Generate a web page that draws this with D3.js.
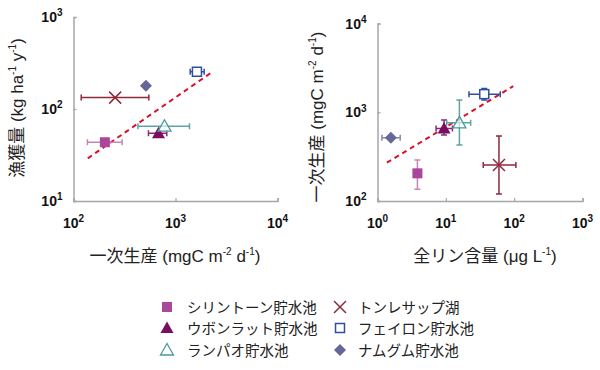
<!DOCTYPE html>
<html><head><meta charset="utf-8">
<script src="https://cdn.jsdelivr.net/npm/d3@7"></script>
<style>
body{margin:0;background:#fff;}
text{font-family:"Liberation Sans","Noto Sans CJK JP",sans-serif;}
</style></head><body>
<svg id="c" width="600" height="370"></svg>
<script>
// Series names (legend order)
const names = ["シリントーン貯水池","ウボンラット貯水池","ランパオ貯水池","トンレサップ湖","フェイロン貯水池","ナムグム貯水池"];
const shapes = ["square","triangle","triangleOpen","cross","squareOpen","diamond"];
const colors = ["#a8479b","#7b0c5e","#4b9a9c","#8e2a3c","#2f4f9f","#666699"];
const errColors = ["#c386b6","#8b2a7a","#5fa3a3","#8e2a3c","#2f4f9f","#8a8aaa"];

// Left chart: primary production (x) vs fish yield (y)
const leftX =    [203, 681, 780, 256, 1622, 513];
const leftXlo =  [137, 543, 428, 119, 1393, null];
const leftXhi =  [300, 822, 1371, 548, 1910, null];
const leftY =    [43.5, 54.5, 65, 133, 254, 179];
const leftTrend = [[138, 29.1], [2307, 254]];

// Right chart: total phosphorus (x) vs primary production (y)
const rightX =   [3.84, 9.42, 15.8, 59.9, 36.5, 1.57];
const rightXlo = [null, 7.2, 10.3, 35.3, 21.8, 1.16];
const rightXhi = [null, 12.5, 23.1, 106, 62.6, 2.15];
const rightY =   [205, 658, 760, 254, 1600, 515];
const rightYlo = [136, 553, 427, 120, 1370, null];
const rightYhi = [289, 816, 1371, 540, 1853, null];
const rightTrend = [[1.37, 270], [97, 1967]];

const leftXTicks = [2,3,4];   // exponents
const leftYTicks = [1,2,3];
const rightXTicks = [0,1,2,3];
const rightYTicks = [2,3,4];

const svg = d3.select("#c");
const axisColor = "#a6a6a6";

function marker(g, shape, x, y, col){
  const s = 5;
  if(shape==="square") g.append("rect").attr("x",x-s).attr("y",y-s).attr("width",2*s).attr("height",2*s).attr("fill",col);
  else if(shape==="squareOpen") g.append("rect").attr("x",x-s+0.5).attr("y",y-s+0.5).attr("width",2*s-1).attr("height",2*s-1).attr("fill","#fff").attr("stroke",col).attr("stroke-width",1.5);
  else if(shape==="triangle") g.append("path").attr("d",`M${x},${y-6.5}L${x+6.5},${y+5}L${x-6.5},${y+5}Z`).attr("fill",col);
  else if(shape==="triangleOpen") g.append("path").attr("d",`M${x},${y-6.5}L${x+6.5},${y+5}L${x-6.5},${y+5}Z`).attr("fill","#fff").attr("fill-opacity",0.6).attr("stroke",col).attr("stroke-width",1.3);
  else if(shape==="diamond") g.append("path").attr("d",`M${x},${y-6}L${x+6},${y}L${x},${y+6}L${x-6},${y}Z`).attr("fill",col);
  else if(shape==="cross") g.append("path").attr("d",`M${x-6},${y-6}L${x+6},${y+6}M${x+6},${y-6}L${x-6},${y+6}`).attr("stroke",col).attr("stroke-width",1.5);
}

function supLabel(t, base, exp, baseSize, expSize){
  t.append("tspan").text(base);
  t.append("tspan").text(exp).attr("font-size",expSize).attr("dy",-baseSize*0.4);
}

function panel(opts){
  const x = d3.scaleLog().domain(opts.xDomain).range(opts.xRange);
  const y = d3.scaleLog().domain(opts.yDomain).range(opts.yRange);
  const g = svg.append("g");
  const xAxis = d3.axisBottom(x).tickValues(opts.xTicks.map(e=>Math.pow(10,e))).tickSize(-3).tickFormat("");
  const yAxis = d3.axisLeft(y).tickValues(opts.yTicks.map(e=>Math.pow(10,e))).tickSize(-3).tickFormat("");
  const gx = g.append("g").attr("transform",`translate(0,${opts.yRange[0]})`).call(xAxis);
  const gy = g.append("g").attr("transform",`translate(${opts.xRange[0]},0)`).call(yAxis);
  [gx,gy].forEach(a=>{a.select(".domain").attr("stroke",axisColor).attr("stroke-width",1.5);a.selectAll(".tick line").attr("stroke",axisColor).attr("stroke-width",1.2);});
  opts.xTicks.forEach(e=>{
    const t = g.append("text").attr("x",x(Math.pow(10,e))).attr("y",opts.yRange[0]+27).attr("text-anchor","middle").attr("font-weight","bold").attr("font-size",14).attr("fill","#111");
    supLabel(t,"10",String(e),14,10);
  });
  opts.yTicks.forEach(e=>{
    const t = g.append("text").attr("x",opts.xRange[0]-11).attr("y",y(Math.pow(10,e))+5).attr("text-anchor","end").attr("font-weight","bold").attr("font-size",14).attr("fill","#111");
    supLabel(t,"10",String(e),14,10);
  });
  const fs = 17;
  const xt = g.append("text").attr("x",opts.xTitleX).attr("y",262).attr("text-anchor","middle").attr("font-size",fs).attr("fill","#222");
  opts.xTitle.forEach(p=>{ const s = xt.append("tspan").text(p[0]); if(p[1]==="sup") s.attr("font-size",10).attr("dy",-7); else if(p[1]==="base") s.attr("dy",7); });
  const yt = g.append("text").attr("transform",`translate(${opts.yTitleX},${opts.yTitleY}) rotate(-90)`).attr("text-anchor","middle").attr("font-size",fs).attr("fill","#222");
  opts.yTitle.forEach(p=>{ const s = yt.append("tspan").text(p[0]); if(p[1]==="sup") s.attr("font-size",10).attr("dy",-7); else if(p[1]==="base") s.attr("dy",7); });
  g.append("line").attr("x1",x(opts.trend[0][0])).attr("y1",y(opts.trend[0][1])).attr("x2",x(opts.trend[1][0])).attr("y2",y(opts.trend[1][1]))
    .attr("stroke","#d9102a").attr("stroke-width",2).attr("stroke-dasharray","5,4");
  const cap = 3;
  opts.X.forEach((xv,i)=>{
    const cx = x(xv), cy = y(opts.Y[i]);
    const ec = errColors[i];
    if(opts.Xlo && opts.Xlo[i]!=null){
      const a=x(opts.Xlo[i]), b=x(opts.Xhi[i]);
      g.append("path").attr("d",`M${a},${cy}H${b}M${a},${cy-cap}V${cy+cap}M${b},${cy-cap}V${cy+cap}`).attr("stroke",ec).attr("stroke-width",1.5).attr("fill","none");
    }
    if(opts.Ylo && opts.Ylo[i]!=null){
      const a=y(opts.Ylo[i]), b=y(opts.Yhi[i]);
      g.append("path").attr("d",`M${cx},${a}V${b}M${cx-cap},${a}H${cx+cap}M${cx-cap},${b}H${cx+cap}`).attr("stroke",ec).attr("stroke-width",1.5).attr("fill","none");
    }
  });
  opts.X.forEach((xv,i)=>{ marker(g, shapes[i], x(xv), y(opts.Y[i]), colors[i]); });
}

panel({xDomain:[100,10000], xRange:[73.5,277.5], yDomain:[10,1000], yRange:[201,17],
  xTicks:leftXTicks, yTicks:leftYTicks, X:leftX, Xlo:leftXlo, Xhi:leftXhi, Y:leftY, Ylo:null, Yhi:null, trend:leftTrend,
  xTitleX:175, xTitle:[["一次生産 (mgC m"],["-2","sup"],[" d","base"],["-1","sup"],[")","base"]],
  yTitleX:23, yTitleY:108, yTitle:[["漁獲量 (kg ha"],["-1","sup"],[" y","base"],["-1","sup"],[")","base"]]});

panel({xDomain:[1,1000], xRange:[377.5,582.5], yDomain:[100,10000], yRange:[201,23.5],
  xTicks:rightXTicks, yTicks:rightYTicks, X:rightX, Xlo:rightXlo, Xhi:rightXhi, Y:rightY, Ylo:rightYlo, Yhi:rightYhi, trend:rightTrend,
  xTitleX:485, xTitle:[["全リン含量 (μg L"],["-1","sup"],[")","base"]],
  yTitleX:323, yTitleY:117, yTitle:[["一次生産 (mgC m"],["-2","sup"],[" d","base"],["-1","sup"],[")","base"]]});

const legX = [167, 340], legTextX = [187, 358], legY = [307, 328, 350];
names.forEach((n,i)=>{
  const col = Math.floor(i/3), row = i%3;
  const lg = svg.append("g");
  marker(lg, shapes[i], legX[col], legY[row], colors[i]);
  lg.append("text").attr("x",legTextX[col]).attr("y",legY[row]+5.5).attr("font-size",14.5).attr("fill","#222").text(n);
});
</script></body></html>
